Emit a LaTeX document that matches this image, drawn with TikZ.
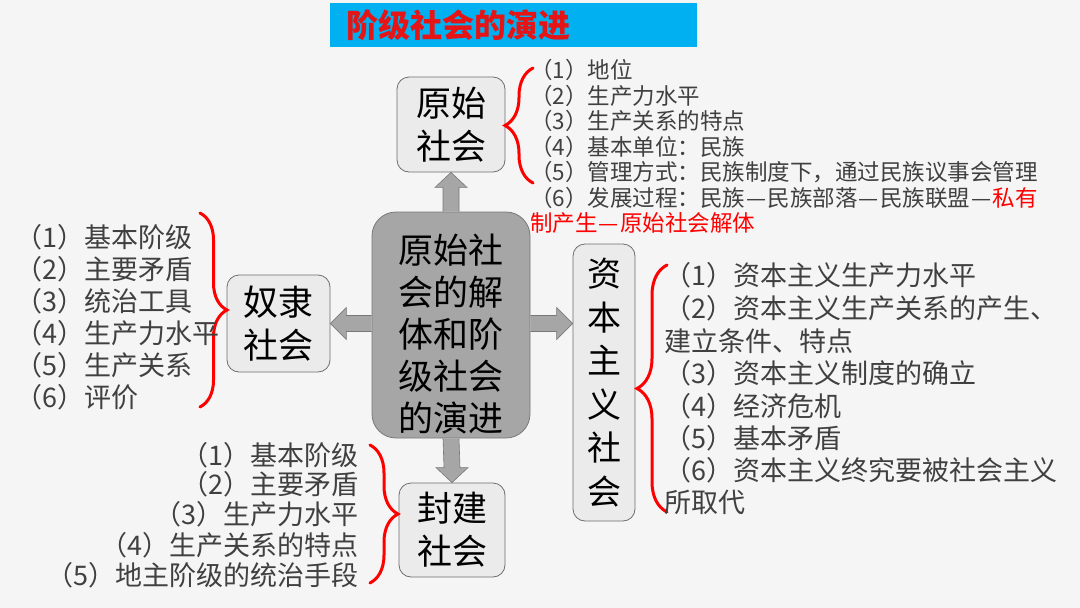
\documentclass[tikz,border=0pt]{standalone}
\usepackage{fontspec}
\setmainfont{Noto Sans CJK SC}
\usetikzlibrary{calc,decorations.pathreplacing}
\definecolor{bg}{RGB}{245,245,245}
\definecolor{titlebg}{RGB}{0,176,240}
\definecolor{titletxt}{RGB}{230,20,20}
\definecolor{boxfill}{RGB}{235,235,235}
\definecolor{boxline}{RGB}{110,110,110}
\definecolor{cfill}{RGB}{166,166,166}
\definecolor{cline}{RGB}{120,120,120}
\definecolor{txt}{RGB}{64,64,64}
\definecolor{brred}{RGB}{255,0,0}
\newcommand\widedash{\makebox[1em][c]{—}}
\begin{document}
\begin{tikzpicture}[x=1pt,y=-1pt,
  sbox/.style={draw=boxline, line width=0.8pt, fill=boxfill, rounded corners=12pt,
    inner sep=0pt, align=center, font=\fontsize{35}{43}\selectfont},
  cbox/.style={draw=cline, line width=0.8pt, fill=cfill, rounded corners=24pt, inner sep=0pt},
  blk/.style={fill=cfill, draw=cline, line width=0.6pt, line join=miter},
  brc/.style={draw=brred, line width=3pt, line cap=round, decorate, decoration={brace, amplitude=#1}},
  listitem/.style={inner sep=0pt, text=txt, font=\fontsize{27}{30}\selectfont},
  smallitem/.style={inner sep=0pt, text=txt, font=\fontsize{22.5}{25.5}\selectfont},
]
% background and bounding box
\fill[bg] (0,0) rectangle (1080,608);
\useasboundingbox (0,0) rectangle (1080,608);

% title
\node[fill=titlebg, minimum width=367, minimum height=44, anchor=north west, inner sep=0pt] (titlebar) at (330,3) {};
\node[anchor=west, inner sep=0pt, text=titletxt, font=\fontsize{32}{36}\selectfont\bfseries] (title) at (346,25) {阶级社会的演进};

% boxes
\node[cbox, minimum width=158, minimum height=226] (c) at (451,325) {};
\node[align=center, inner sep=0pt, font=\fontsize{35}{42}\selectfont] (ct) at (451,334) {原始社\\会的解\\体和阶\\级社会\\的演进};
\node[sbox, minimum width=108, minimum height=95] (yuan) at (451,124.5) {原始\\社会};
\node[sbox, minimum width=103, minimum height=97] (nuli) at (278.5,323.5) {奴隶\\社会};
\node[sbox, minimum width=62, minimum height=277, font=\fontsize{34}{43.5}\selectfont] (zb) at (604,382.5) {资\\本\\主\\义\\社\\会};
\node[sbox, minimum width=106, minimum height=94] (feng) at (452,530) {封建\\社会};

% block arrows
\draw[blk] ($(c.north)+(-8,0)$) -- ($(yuan.south)+(-8,15)$) -- ($(yuan.south)+(-16,15)$) -- (yuan.south)
  -- ($(yuan.south)+(16,15)$) -- ($(yuan.south)+(8,15)$) -- ($(c.north)+(8,0)$);
\draw[blk] ($(c.south)+(-8,0)$) -- ($(feng.north)+(-8,-15)$) -- ($(feng.north)+(-16,-15)$) -- (feng.north)
  -- ($(feng.north)+(16,-15)$) -- ($(feng.north)+(8,-15)$) -- ($(c.south)+(8,0)$);
\coordinate (lb) at (c.west |- nuli.east);
\draw[blk] ($(lb)+(0,-8)$) -- ($(nuli.east)+(16,-8)$) -- ($(nuli.east)+(16,-16)$) -- (nuli.east)
  -- ($(nuli.east)+(16,16)$) -- ($(nuli.east)+(16,8)$) -- ($(lb)+(0,8)$);
\coordinate (rb) at (c.east |- nuli.east);
\coordinate (rt) at (zb.west |- nuli.east);
\draw[blk] ($(rb)+(0,-8)$) -- ($(rt)+(-16,-8)$) -- ($(rt)+(-16,-16)$) -- (rt)
  -- ($(rt)+(-16,16)$) -- ($(rt)+(-16,8)$) -- ($(rb)+(0,8)$);

% braces
\coordinate (yb1) at (533,183); \coordinate (yb2) at (533,68);
\draw[brc=28pt] (yb1) -- (yb2);
\coordinate (nb1) at (200,213); \coordinate (nb2) at (200,407);
\draw[brc=27pt] (nb1) -- (nb2);
\coordinate (zb1) at (667,512); \coordinate (zb2) at (667,265);
\draw[brc=30pt] (zb1) -- (zb2);
\coordinate (fb1) at (370,445); \coordinate (fb2) at (370,583);
\draw[brc=28pt] (fb1) -- (fb2);

% list of primitive society
\node[smallitem, anchor=west] (y1) at (530,70) {（1）地位};
\node[smallitem, anchor=west] (y2) at (530,95.5) {（2）生产力水平};
\node[smallitem, anchor=west] (y3) at (530,121) {（3）生产关系的特点};
\node[smallitem, anchor=west] (y4) at (530,146.5) {（4）基本单位：民族};
\node[smallitem, anchor=west] (y5) at (530,172) {（5）管理方式：民族制度下，通过民族议事会管理};
\node[smallitem, anchor=west] (y6) at (530,197.5) {（6）发展过程：民族\widedash 民族部落\widedash 民族联盟\widedash\textcolor{brred}{私有}};
\node[smallitem, anchor=west, text=brred] (y7) at (530,223) {制产生\widedash 原始社会解体};

% list of slave society
\node[listitem, anchor=west] (n1) at (15.5,237) {（1）基本阶级};
\node[listitem, anchor=west] (n2) at (15.5,269) {（2）主要矛盾};
\node[listitem, anchor=west] (n3) at (15.5,301) {（3）统治工具};
\node[listitem, anchor=west] (n4) at (15.5,333) {（4）生产力水平};
\node[listitem, anchor=west] (n5) at (15.5,365) {（5）生产关系};
\node[listitem, anchor=west] (n6) at (15.5,397) {（6）评价};

% list of capitalist society
\node[listitem, anchor=west] (z1) at (664.5,275) {（1）资本主义生产力水平};
\node[listitem, anchor=west] (z2) at (664.5,308) {（2）资本主义生产关系的产生、};
\node[listitem, anchor=west] (z3) at (664.5,341) {建立条件、特点};
\node[listitem, anchor=west] (z4) at (664.5,373) {（3）资本主义制度的确立};
\node[listitem, anchor=west] (z5) at (664.5,406) {（4）经济危机};
\node[listitem, anchor=west] (z6) at (664.5,438) {（5）基本矛盾};
\node[listitem, anchor=west] (z7) at (664.5,470) {（6）资本主义终究要被社会主义};
\node[listitem, anchor=west] (z8) at (664.5,502) {所取代};

% list of feudal society
\node[listitem, anchor=east] (f1) at (359,455) {（1）基本阶级};
\node[listitem, anchor=east] (f2) at (359,484) {（2）主要矛盾};
\node[listitem, anchor=east] (f3) at (359,514) {（3）生产力水平};
\node[listitem, anchor=east] (f4) at (359,545) {（4）生产关系的特点};
\node[listitem, anchor=east] (f5) at (359,575) {（5）地主阶级的统治手段};
\end{tikzpicture}
\end{document}
